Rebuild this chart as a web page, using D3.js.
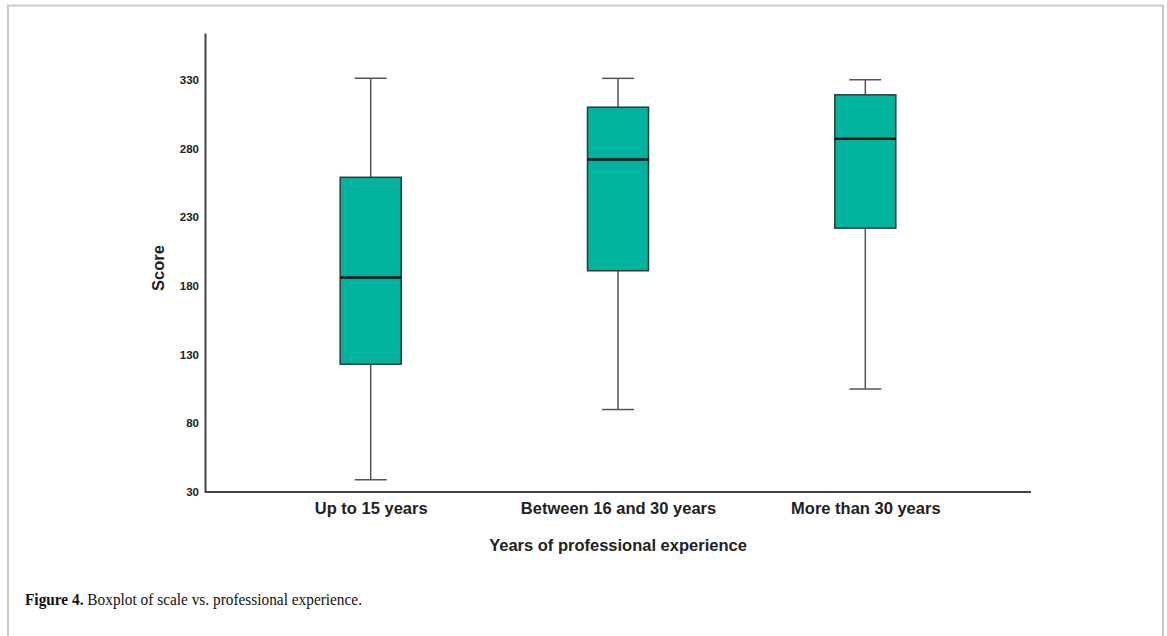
<!DOCTYPE html>
<html>
<head>
<meta charset="utf-8">
<script src="https://cdn.jsdelivr.net/npm/d3@7"></script>
<style>
  html, body { margin: 0; padding: 0; background: #fff; }
  svg { display: block; }
</style>
</head>
<body>
<svg id="chart" width="1167" height="636"></svg>
<script>
// Score distribution by years of professional experience
const categories = ["Up to 15 years", "Between 16 and 30 years", "More than 30 years"];
const whiskerLow  = [39, 90, 105];
const q1          = [123, 191, 222];
const median      = [186, 272, 287];
const q3          = [259, 310, 319];
const whiskerHigh = [331, 331, 330];
const yTicks = [30, 80, 130, 180, 230, 280, 330];

const boxes = categories.map((c, i) => ({
  cat: c, lo: whiskerLow[i], q1: q1[i], med: median[i], q3: q3[i], hi: whiskerHigh[i]
}));

const svg = d3.select("#chart");

// figure frame
svg.append("path")
  .attr("d", "M8,640 V5.5 H1163 V640")
  .attr("fill", "none")
  .attr("stroke", "#c9c9c9")
  .attr("stroke-width", 2);

const x = d3.scalePoint().domain(categories).range([205, 1031]).padding(0.67);
const y = d3.scaleLinear().domain([30, 364]).range([492, 33]);

const boxW = 61, capW = 32;

// axes
const yAxis = svg.append("g")
  .attr("transform", "translate(205,0)")
  .call(d3.axisLeft(y).tickValues(yTicks).tickSize(0).tickPadding(6));
yAxis.select(".domain").attr("stroke", "#444").attr("stroke-width", 2);
yAxis.selectAll("text")
  .attr("font-family", "'Liberation Sans', Arial, sans-serif")
  .attr("font-size", 11.5).attr("font-weight", "bold").attr("fill", "#222");

const xAxis = svg.append("g")
  .attr("transform", "translate(0,492)")
  .call(d3.axisBottom(x).tickSize(0).tickPadding(10));
xAxis.select(".domain").attr("stroke", "#444").attr("stroke-width", 2)
  .attr("d", "M205,0H1031");
xAxis.selectAll("text")
  .attr("font-family", "'Liberation Sans', Arial, sans-serif")
  .attr("font-size", 16.5).attr("font-weight", "bold").attr("fill", "#222");

// whiskers
const g = svg.append("g");
const bx = g.selectAll("g.box").data(boxes).join("g").attr("class", "box");

bx.append("line")
  .attr("x1", d => x(d.cat)).attr("x2", d => x(d.cat))
  .attr("y1", d => y(d.hi)).attr("y2", d => y(d.lo))
  .attr("stroke", "#555").attr("stroke-width", 1.5);
bx.append("line")
  .attr("x1", d => x(d.cat) - capW / 2).attr("x2", d => x(d.cat) + capW / 2)
  .attr("y1", d => y(d.hi)).attr("y2", d => y(d.hi))
  .attr("stroke", "#555").attr("stroke-width", 1.5);
bx.append("line")
  .attr("x1", d => x(d.cat) - capW / 2).attr("x2", d => x(d.cat) + capW / 2)
  .attr("y1", d => y(d.lo)).attr("y2", d => y(d.lo))
  .attr("stroke", "#555").attr("stroke-width", 1.5);

// boxes
bx.append("rect")
  .attr("x", d => x(d.cat) - boxW / 2)
  .attr("width", boxW)
  .attr("y", d => y(d.q3))
  .attr("height", d => y(d.q1) - y(d.q3))
  .attr("fill", "#00b39f")
  .attr("stroke", "#2b3b38").attr("stroke-width", 1.5);

// medians
bx.append("line")
  .attr("x1", d => x(d.cat) - boxW / 2).attr("x2", d => x(d.cat) + boxW / 2)
  .attr("y1", d => y(d.med)).attr("y2", d => y(d.med))
  .attr("stroke", "#111").attr("stroke-width", 2.5);

// axis titles
svg.append("text")
  .attr("x", 618).attr("y", 551)
  .attr("text-anchor", "middle")
  .attr("font-family", "'Liberation Sans', Arial, sans-serif")
  .attr("font-size", 16.5).attr("font-weight", "bold").attr("fill", "#222")
  .text("Years of professional experience");

svg.append("text")
  .attr("transform", "translate(164,268) rotate(-90)")
  .attr("text-anchor", "middle")
  .attr("font-family", "'Liberation Sans', Arial, sans-serif")
  .attr("font-size", 16.5).attr("font-weight", "bold").attr("fill", "#222")
  .text("Score");

// caption
const cap = svg.append("text")
  .attr("x", 25).attr("y", 605)
  .attr("font-family", "'Liberation Serif', 'Times New Roman', serif")
  .attr("font-size", 17).attr("fill", "#111")
  .attr("textLength", 337)
  .attr("lengthAdjust", "spacingAndGlyphs");
cap.append("tspan").attr("font-weight", "bold").text("Figure 4.");
cap.append("tspan").text(" Boxplot of scale vs. professional experience.");
</script>
</body>
</html>
